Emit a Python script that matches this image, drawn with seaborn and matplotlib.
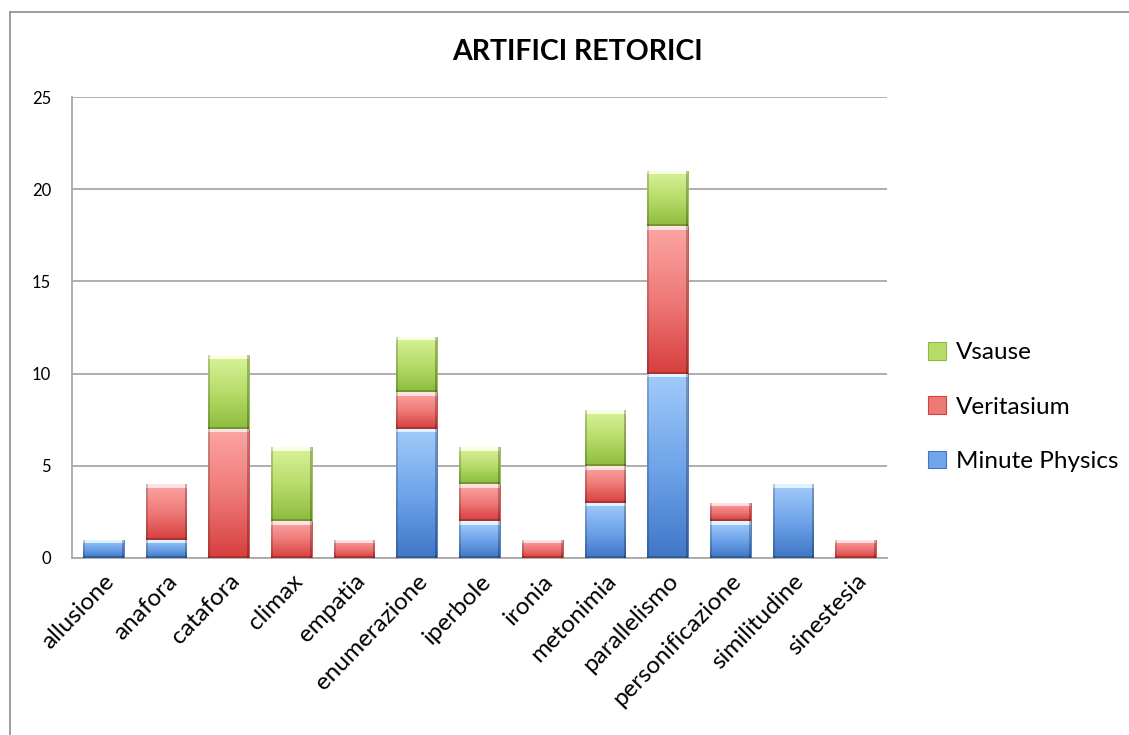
import numpy as np
import pandas as pd
import matplotlib
matplotlib.use("Agg")
import matplotlib.pyplot as plt
from matplotlib.patches import Patch
from matplotlib.lines import Line2D
import seaborn as sns

# ---- data -------------------------------------------------------------
categories = ["allusione", "anafora", "catafora", "climax", "empatia",
              "enumerazione", "iperbole", "ironia", "metonimia",
              "parallelismo", "personificazione", "similitudine", "sinestesia"]
minute_physics = [1, 1, 0, 0, 0, 7, 2, 0, 3, 10, 2, 4, 0]
veritasium     = [0, 3, 7, 2, 1, 2, 2, 1, 2, 8, 1, 0, 1]
vsause         = [0, 0, 4, 4, 0, 3, 2, 0, 3, 3, 0, 0, 0]
series_names = ["Minute Physics", "Veritasium", "Vsause"]
y_ticks = [0, 5, 10, 15, 20, 25]
title = "ARTIFICI RETORICI"

# ---- style ------------------------------------------------------------
sns.set_theme(style="white")
plt.rcParams["font.family"] = ["Lato", "DejaVu Sans"]
plt.rcParams["text.color"] = "black"
plt.rcParams["xtick.color"] = "black"
plt.rcParams["ytick.color"] = "black"

# light (top) / base / dark (bottom) tones for each series
palette = {
    "Minute Physics": ("#a2cbfa", "#70a5ea", "#3f76c6"),
    "Veritasium":     ("#fca6a4", "#ee7a78", "#d63f3e"),
    "Vsause":         ("#d8f39c", "#b8dc6a", "#8cbc3e"),
}

W_PX, H_PX = 1129, 735
AX_L, AX_R, AX_T, AX_B = 72, 887, 97, 558
Y_MAX = 25

df = pd.DataFrame({"categoria": categories,
                   "Minute Physics": minute_physics,
                   "Veritasium": veritasium,
                   "Vsause": vsause})

fig = plt.figure(figsize=(W_PX / 100, H_PX / 100), dpi=100)
ax = fig.add_axes([AX_L / W_PX, 1 - AX_B / H_PX,
                   (AX_R - AX_L) / W_PX, (AX_B - AX_T) / H_PX])

px_per_unit = (AX_B - AX_T) / Y_MAX
px_per_slot = (AX_R - AX_L) / len(categories)


def rgb(h):
    return np.array(matplotlib.colors.to_rgb(h))


def bevel_image(light, base, dark, h_px, w_px):
    """Pixel-sized bevelled block: light-to-dark vertical gradient,
    bright top lip, darker bottom and side edges."""
    n, m = max(int(round(h_px)), 4), max(int(round(w_px)), 4)
    l, b, d = rgb(light), rgb(base), rgb(dark)
    t = np.linspace(0, 1, n)[:, None]
    col = np.where(t < 0.5, l + (b - l) * (t / 0.5),
                   b + (d - b) * ((t - 0.5) / 0.5))
    img = np.repeat(col[:, None, :], m, axis=1)
    lip = min(4, n // 3)
    img[:lip] = np.clip(img[:lip] * 0.45 + 0.6, 0, 1)
    img[-2:] = img[-2:] * 0.8
    img[:, :2] = img[:, :2] * 0.82
    img[:, -2:] = img[:, -2:] * 0.75
    return np.clip(img, 0, 1)


bottoms = np.zeros(len(categories))
for name in series_names:
    vals = df[name].to_numpy(dtype=float)
    start = len(ax.patches)
    sns.barplot(data=df, x="categoria", y=name, color=palette[name][1],
                width=0.65, ax=ax, saturation=1, edgecolor=palette[name][2],
                linewidth=0.6, zorder=3)
    for p, b0, v in zip(ax.patches[start:], bottoms, vals):
        p.set_y(b0)
        if v <= 0:
            p.set_visible(False)
            continue
        x0, w = p.get_x(), p.get_width()
        img = bevel_image(*palette[name], v * px_per_unit, w * px_per_slot)
        im = ax.imshow(img, extent=(x0, x0 + w, b0, b0 + v), aspect="auto",
                       origin="upper", zorder=3.5, interpolation="nearest")
        im.set_clip_path(p)
    bottoms += vals

ax.set_xlim(-0.5, len(categories) - 0.5)
ax.set_ylim(0, Y_MAX)
ax.set_yticks(y_ticks)
ax.set_yticklabels([str(v) for v in y_ticks], fontsize=12)
ax.set_xlabel("")
ax.set_ylabel("")
ax.yaxis.grid(True, color="#a8a8a8", linewidth=1.3, zorder=0)
ax.set_axisbelow(True)
for s in ["top", "right"]:
    ax.spines[s].set_visible(False)
for s in ["left", "bottom"]:
    ax.spines[s].set_color("#a8a8a8")
    ax.spines[s].set_linewidth(1.3)
ax.tick_params(axis="y", length=0, pad=15)
ax.tick_params(axis="x", length=0, pad=9)
ax.set_xticks(range(len(categories)))
ax.set_xticklabels(categories, rotation=46, ha="right", rotation_mode="anchor",
                   fontsize=17.5)
for lbl in ax.get_xticklabels():
    lbl.set_x(lbl.get_position()[0] + 0.15)

fig.text(577 / W_PX, 1 - 52 / H_PX, title, ha="center", va="center",
         fontsize=20.5, fontweight="bold")

handles = [Patch(facecolor=palette[n][1], edgecolor=palette[n][2], linewidth=0.8)
           for n in reversed(series_names)]
fig.legend(handles, list(reversed(series_names)), loc="center left",
           bbox_to_anchor=(906 / W_PX, 1 - 407 / H_PX), frameon=False,
           fontsize=17.5, labelspacing=1.35, handlelength=0.75, handleheight=0.75,
           handletextpad=0.4)

# outer chart border (top and left edges)
fig.add_artist(Line2D([10 / W_PX, 1.0], [1 - 12 / H_PX] * 2, color="#8c8c8c",
                      linewidth=1.2, transform=fig.transFigure))
fig.add_artist(Line2D([10 / W_PX] * 2, [0.0, 1 - 12 / H_PX], color="#8c8c8c",
                      linewidth=1.2, transform=fig.transFigure))

fig.savefig("out.png", dpi=100)
